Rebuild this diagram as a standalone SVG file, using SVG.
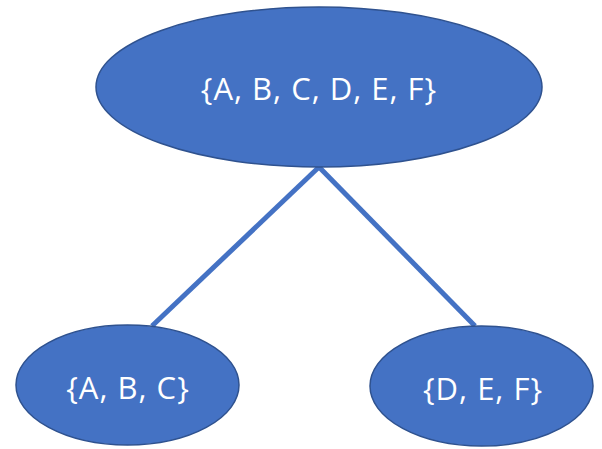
<svg xmlns="http://www.w3.org/2000/svg" width="602" height="449" viewBox="0 0 602 449">
  <style>
    .node ellipse { fill: #4472C4; stroke: #2F528F; stroke-width: 1.5; }
    .node text { fill: #FFFFFF; font-family: "Open Sans", "Liberation Sans", sans-serif; font-size: 31px; letter-spacing: 1px; text-anchor: middle; }
    .edges line { stroke: #4472C4; stroke-width: 5; }
  </style>
  <rect width="602" height="449" fill="#FFFFFF"/>
  <g id="edges" class="edges">
    <line x1="319" y1="167" x2="152" y2="326"/>
    <line x1="319" y1="167" x2="475" y2="326"/>
  </g>
  <g id="root" class="node">
    <ellipse cx="319" cy="87" rx="223" ry="80"/>
    <text x="319" y="100">{A, B, C, D, E, F}</text>
  </g>
  <g id="left" class="node">
    <ellipse cx="127.5" cy="385" rx="111.5" ry="60"/>
    <text x="128" y="399">{A, B, C}</text>
  </g>
  <g id="right" class="node">
    <ellipse cx="481.5" cy="386" rx="111.5" ry="60"/>
    <text x="483" y="400">{D, E, F}</text>
  </g>
</svg>
